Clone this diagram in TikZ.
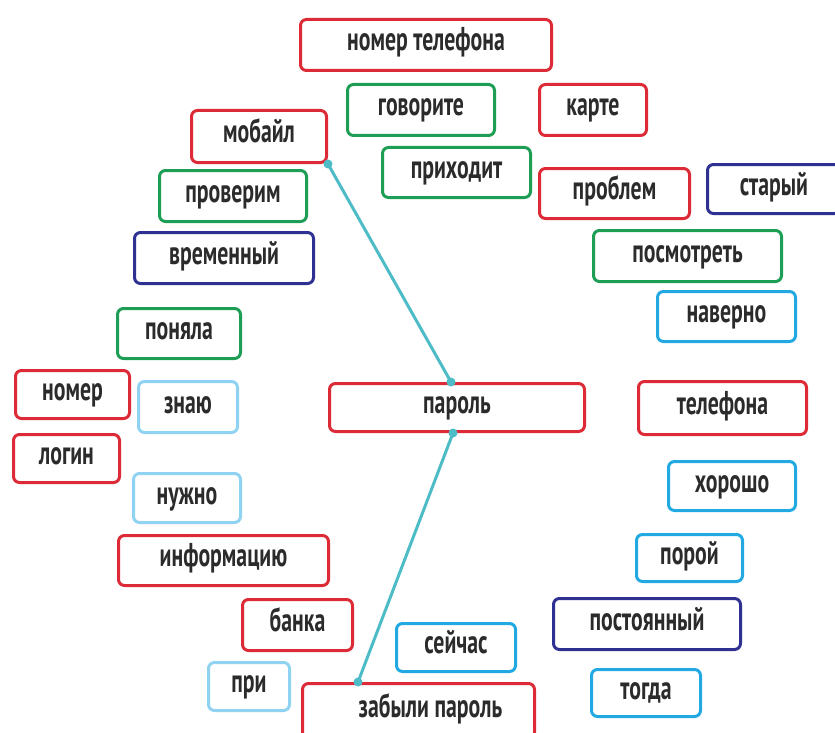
\documentclass[tikz,border=0pt]{standalone}
\usepackage{fontspec}
\setmainfont[FakeStretch=0.66]{PT Sans}
\definecolor{redbox}{HTML}{DC2A36}
\definecolor{greenbox}{HTML}{1E9E55}
\definecolor{navybox}{HTML}{2E3192}
\definecolor{cyanbox}{HTML}{22A9E1}
\definecolor{palebox}{HTML}{90D2F2}
\definecolor{linkcol}{HTML}{4DBCC6}
\definecolor{textcol}{HTML}{2B2B2B}
\tikzset{
  wordbox/.style={draw, line width=3pt, rounded corners=6pt, inner sep=0pt,
    text=textcol, text height=18pt, text depth=6pt,
    font=\fontsize{33}{33}\selectfont\bfseries},
  link/.style={line width=3pt, color=linkcol},
}
\begin{document}
\begin{tikzpicture}[x=1pt, y=-1pt]
  \useasboundingbox (0,0) rectangle (835,733);

  % word boxes: name/left/top/right/bottom/colour/text
  \foreach \nm/\xa/\ya/\xb/\yb/\col/\txt in {
    nomertel/299/18/553/72/redbox/номер телефона,
    govorite/346/83/496/137/greenbox/говорите,
    karte/538/83/648/137/redbox/карте,
    mobail/190/109/328/164/redbox/мобайл,
    prihodit/381/146/532/199/greenbox/приходит,
    problem/538/167/691/220/redbox/проблем,
    stary/706/163/842/215/navybox/старый,
    proverim/158/169/308/223/greenbox/проверим,
    vremenny/133/231/315/285/navybox/временный,
    posmotret/592/229/783/283/greenbox/посмотреть,
    naverno/656/290/797/343/cyanbox/наверно,
    ponyala/116/307/242/360/greenbox/поняла,
    nomer/14/369/131/420/redbox/номер,
    znayu/137/380/239/434/palebox/знаю,
    parol/328/382/586/433/redbox/пароль,
    telefona/637/380/808/436/redbox/телефона,
    login/12/433/121/484/redbox/логин,
    horosho/667/460/797/512/cyanbox/хорошо,
    nuzhno/132/472/242/524/palebox/нужно,
    informatsiyu/117/534/330/587/redbox/информацию,
    poroy/635/533/744/583/cyanbox/порой,
    banka/241/598/354/652/redbox/банка,
    postoyanny/552/597/742/651/navybox/постоянный,
    seychas/395/622/517/673/cyanbox/сейчас,
    tpri/207/661/291/712/palebox/при,
    togda/590/668/702/718/cyanbox/тогда,
    zabyli/301/682/536/740/redbox/{\hspace*{24pt}забыли пароль}}
  \node[wordbox, draw=\col, minimum width={(\xb-\xa-3)*1pt},
    minimum height={(\yb-\ya-3)*1pt}] (\nm) at ({(\xa+\xb)/2},{(\ya+\yb)/2}) {\txt};

  % links
  \coordinate (mobdot) at (mobail.south east);
  \coordinate (partop) at ([xshift=-6pt]parol.north);
  \coordinate (parbot) at ([xshift=-4pt]parol.south);
  \coordinate (zabdot) at ([xshift=57pt]zabyli.north west);
  \draw[link] (mobdot) -- (partop);
  \draw[link] (parbot) -- (zabdot);
  \foreach \pt in {mobdot, partop, parbot, zabdot}
  \fill[linkcol] (\pt) circle (4.5pt);
\end{tikzpicture}
\end{document}
